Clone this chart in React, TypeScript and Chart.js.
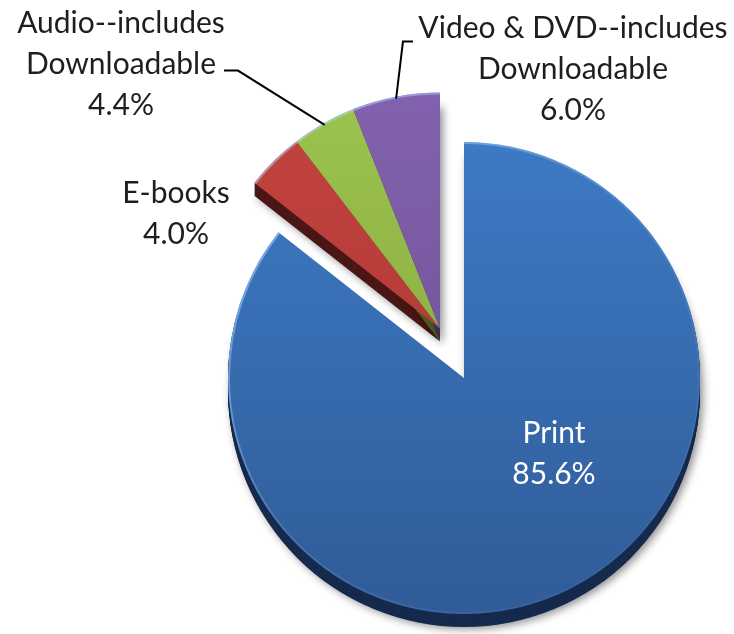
import React, { useEffect, useRef } from "react";
import { Chart, registerables } from "chart.js";

Chart.register(...registerables);

// ---- data ----
const categories = ["Print", "E-books", "Audio--includes Downloadable", "Video & DVD--includes Downloadable"];
const shares = [85.6, 4.0, 4.4, 6.0];
const nameLines = [["Print"], ["E-books"], ["Audio--includes", "Downloadable"], ["Video & DVD--includes", "Downloadable"]];
const explodedGroup = [1, 2, 3];

// ---- styles / layout ----
const topColors = ["#3e7dc9", "#c4443f", "#9cc34f", "#8262ae"];
const bottomColors = ["#305b97", "#a3322f", "#809f3b", "#674b8c"];
const edgeColors = ["#152a4d", "#4b1616", "#4a5f22", "#3d2d57"];
const textColors = ["#ffffff", "#1e1e1e", "#1e1e1e", "#1e1e1e"];
// label anchor offsets (centre x, first baseline) relative to the slice's pie centre
const labelOffsets = [[90, 65], [-264, -126], [-319, -296], [133, -291]];
const lineGap = 41;
// leader: short horizontal tick start/end relative to pie centre (null = none)
const leaderTicks: (number[] | null)[] = [null, null, [-216, -258, -202, -258], [-27, -287, -37, -287]];
const RADIUS = 236;
const DEPTH = 13;
const EXPLODE = 55;
const FONT = "30px Lato, 'Open Sans', sans-serif";

const explodePlugin = {
  id: "groupExplode",
  afterDatasetsUpdate(chart: any) {
    const meta = chart.getDatasetMeta(0);
    const els = meta.data;
    const start = els[explodedGroup[0]].startAngle;
    const end = els[explodedGroup[explodedGroup.length - 1]].endAngle;
    const mid = (start + end) / 2;
    const dx = Math.cos(mid) * EXPLODE;
    const dy = Math.sin(mid) * EXPLODE;
    explodedGroup.forEach((i) => {
      els[i].x += dx;
      els[i].y += dy;
    });
  },
};

const depthPlugin = {
  id: "depth",
  beforeDatasetsDraw(chart: any) {
    const ctx = chart.ctx;
    const els = chart.getDatasetMeta(0).data;
    ctx.save();
    els.forEach((el: any, i: number) => {
      for (let k = DEPTH; k >= 1; k--) {
        ctx.save();
        if (k === DEPTH) {
          ctx.shadowColor = "rgba(0,0,0,0.45)";
          ctx.shadowBlur = 9;
          ctx.shadowOffsetX = 3;
          ctx.shadowOffsetY = 2;
        }
        ctx.beginPath();
        ctx.moveTo(el.x, el.y + k);
        ctx.arc(el.x, el.y + k, el.outerRadius, el.startAngle, el.endAngle);
        ctx.closePath();
        ctx.fillStyle = edgeColors[i];
        ctx.fill();
        ctx.restore();
      }
    });
    ctx.restore();
  },
  afterDatasetsDraw(chart: any) {
    const ctx = chart.ctx;
    const els = chart.getDatasetMeta(0).data;
    els.forEach((el: any) => {
      ctx.save();
      const g = ctx.createLinearGradient(el.x - el.outerRadius, el.y - el.outerRadius, el.x + el.outerRadius, el.y + el.outerRadius);
      g.addColorStop(0, "rgba(170,210,255,0.75)");
      g.addColorStop(0.5, "rgba(170,210,255,0.15)");
      g.addColorStop(1, "rgba(170,210,255,0)");
      ctx.strokeStyle = g;
      ctx.lineWidth = 2;
      ctx.beginPath();
      ctx.arc(el.x, el.y, el.outerRadius - 1, el.startAngle, el.endAngle);
      ctx.stroke();
      ctx.restore();
    });
  },
};

const labelPlugin = {
  id: "sliceLabels",
  afterDraw(chart: any) {
    const ctx = chart.ctx;
    const els = chart.getDatasetMeta(0).data;
    ctx.save();
    ctx.font = FONT;
    ctx.textAlign = "center";
    ctx.textBaseline = "alphabetic";
    els.forEach((el: any, i: number) => {
      const lines = [...nameLines[i], shares[i].toFixed(1) + "%"];
      const [ox, oy] = labelOffsets[i];
      ctx.fillStyle = textColors[i];
      lines.forEach((t, j) => {
        ctx.fillText(t, el.x + ox, el.y + oy + j * lineGap);
      });
      const tick = leaderTicks[i];
      if (tick) {
        const mid = (el.startAngle + el.endAngle) / 2;
        const ex = el.x + Math.cos(mid) * (el.outerRadius - 2);
        const ey = el.y + Math.sin(mid) * (el.outerRadius - 2);
        ctx.strokeStyle = "#000000";
        ctx.lineWidth = 2;
        ctx.beginPath();
        ctx.moveTo(el.x + tick[0], el.y + tick[1]);
        ctx.lineTo(el.x + tick[2], el.y + tick[3]);
        ctx.lineTo(ex, ey);
        ctx.stroke();
      }
    });
    ctx.restore();
  },
};

export default function App() {
  const canvasRef = useRef<HTMLCanvasElement | null>(null);

  useEffect(() => {
    document.body.style.margin = "0";
    const canvas = canvasRef.current;
    if (!canvas) return;
    const chart = new Chart(canvas, {
      type: "pie",
      data: {
        labels: categories,
        datasets: [
          {
            data: shares,
            borderWidth: 0,
            backgroundColor: (c: any) => {
              const i = c.dataIndex;
              const chartObj = c.chart;
              if (i === undefined || !chartObj.chartArea) return topColors[i ?? 0];
              const g = chartObj.ctx.createLinearGradient(0, 90, 0, 620);
              g.addColorStop(0, topColors[i]);
              g.addColorStop(1, bottomColors[i]);
              return g;
            },
          },
        ],
      },
      options: {
        animation: false,
        responsive: true,
        maintainAspectRatio: false,
        radius: RADIUS,
        layout: { padding: { left: 194, right: 0, top: 122, bottom: 0 } },
        plugins: {
          legend: { display: false },
          tooltip: { enabled: false },
        },
        events: [],
      } as any,
      plugins: [explodePlugin, depthPlugin, labelPlugin],
    });
    return () => chart.destroy();
  }, []);

  return (
    <div style={{ position: "fixed", left: 0, top: 0, width: 734, height: 634, background: "#ffffff" }}>
      <canvas ref={canvasRef} />
    </div>
  );
}
